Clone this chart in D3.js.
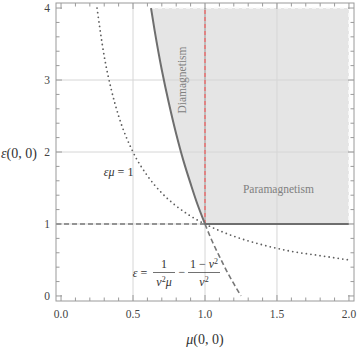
<!DOCTYPE html>
<html>
<head>
<meta charset="utf-8">
<script src="https://cdn.jsdelivr.net/npm/d3@7"></script>
<style>
  body { margin: 0; background: #fff; }
</style>
</head>
<body>
<div id="chart"></div>
<script>
// values
const xMajor = [0, 0.5, 1, 1.5, 2]
const xMajorLabels = ["0.0", "0.5", "1.0", "1.5", "2.0"]
const yMajor = [0, 1, 2, 3, 4]
const yMajorLabels = ["0", "1", "2", "3", "4"]
const xGrid = [0.5, 1, 1.5]
const yGrid = [1, 2, 3]

// eps*mu = 1 (dotted)
const hypMu  = [0.25, 0.3, 0.35, 0.4, 0.5, 0.6, 0.7, 0.8, 0.9, 1, 1.2, 1.4, 1.6, 1.8, 2]
const hypEps = [4, 3.33, 2.86, 2.5, 2, 1.67, 1.43, 1.25, 1.11, 1, 0.83, 0.71, 0.62, 0.56, 0.5]

// boundary curve (solid part, eps >= 1)
const edgeMu  = [0.625, 0.65, 0.7, 0.75, 0.8, 0.85, 0.9, 0.95, 1]
const edgeEps = [4, 3.69, 3.14, 2.67, 2.25, 1.88, 1.56, 1.26, 1]
// continuation below eps = 1 (dashed)
const tailMu  = [1, 1.05, 1.1, 1.15, 1.2, 1.25]
const tailEps = [1, 0.76, 0.55, 0.35, 0.17, 0]

const muMax = 2, epsMax = 4, epsLine = 1, muLine = 1

const width = 357
const height = 348
const serif = "'Liberation Serif', 'DejaVu Serif', 'Times New Roman', serif"

const svg = d3.select("#chart").append("svg")
    .attr("width", width)
    .attr("height", height)
    .attr("font-family", serif)

const x = d3.scaleLinear().domain([-0.035, 2.035]).range([56, 354])
const y = d3.scaleLinear().domain([-0.07, 4.07]).range([301, 3])

const line = d3.line().x(d => x(d[0])).y(d => y(d[1])).curve(d3.curveMonotoneY)
const lineX = d3.line().x(d => x(d[0])).y(d => y(d[1])).curve(d3.curveMonotoneX)

svg.append("clipPath").attr("id", "clip")
    .append("rect")
    .attr("x", x.range()[0]).attr("y", y.range()[1])
    .attr("width", x.range()[1] - x.range()[0])
    .attr("height", y.range()[0] - y.range()[1])

const g = svg.append("g").attr("clip-path", "url(#clip)")

// shaded region
const edge = edgeMu.map((m, i) => [m, edgeEps[i]])
const region = edge.concat([[muMax, epsLine], [muMax, epsMax]])
g.append("path")
    .attr("d", "M" + region.map(d => x(d[0]) + "," + y(d[1])).join("L") + "Z")
    .attr("fill", "#e5e5e5")

// grid
g.selectAll(".gx").data(xGrid).enter().append("line")
    .attr("x1", d => x(d)).attr("x2", d => x(d))
    .attr("y1", y.range()[0]).attr("y2", y.range()[1])
    .attr("stroke", "#d6d6d6").attr("stroke-width", 1)
g.selectAll(".gy").data(yGrid).enter().append("line")
    .attr("y1", d => y(d)).attr("y2", d => y(d))
    .attr("x1", x.range()[0]).attr("x2", x.range()[1])
    .attr("stroke", "#d6d6d6").attr("stroke-width", 1)

// dashed light border of region (top and right)
g.append("path")
    .attr("d", `M${x(edgeMu[0])},${y(epsMax)}L${x(muMax)},${y(epsMax)}L${x(muMax)},${y(epsLine)}`)
    .attr("fill", "none")
    .attr("stroke", "#fafafa")
    .attr("stroke-width", 1.6)
    .attr("stroke-dasharray", "4,3")

// red dashed vertical mu = 1
g.append("line")
    .attr("x1", x(muLine)).attr("x2", x(muLine))
    .attr("y1", y(epsLine)).attr("y2", y(epsMax))
    .attr("stroke", "#bdbdbd").attr("stroke-width", 2)
g.append("line")
    .attr("x1", x(muLine)).attr("x2", x(muLine))
    .attr("y1", y(epsLine)).attr("y2", y(epsMax))
    .attr("stroke", "#e08484").attr("stroke-width", 2)
    .attr("stroke-dasharray", "4,3")

// dotted eps*mu = 1
g.append("path")
    .attr("d", lineX(hypMu.map((m, i) => [m, hypEps[i]])))
    .attr("fill", "none")
    .attr("stroke", "#5e5e5e")
    .attr("stroke-width", 1.8)
    .attr("stroke-linecap", "round")
    .attr("stroke-dasharray", "0,4.6")

// dashed horizontal eps = 1 (mu < 1)
g.append("line")
    .attr("x1", x.range()[0]).attr("x2", x(muLine))
    .attr("y1", y(epsLine)).attr("y2", y(epsLine))
    .attr("stroke", "#777").attr("stroke-width", 1.6)
    .attr("stroke-dasharray", "5,3")

// dashed tail
g.append("path")
    .attr("d", line(tailMu.map((m, i) => [m, tailEps[i]])))
    .attr("fill", "none")
    .attr("stroke", "#777").attr("stroke-width", 1.6)
    .attr("stroke-dasharray", "5,3")

// solid boundary
g.append("path")
    .attr("d", line(edge))
    .attr("fill", "none")
    .attr("stroke", "#6e6e6e").attr("stroke-width", 2)
g.append("line")
    .attr("x1", x(muLine)).attr("x2", x(muMax))
    .attr("y1", y(epsLine)).attr("y2", y(epsLine))
    .attr("stroke", "#6e6e6e").attr("stroke-width", 2)

// frame
svg.append("rect")
    .attr("x", x.range()[0]).attr("y", y.range()[1])
    .attr("width", x.range()[1] - x.range()[0])
    .attr("height", y.range()[0] - y.range()[1])
    .attr("fill", "none").attr("stroke", "#9a9a9a").attr("stroke-width", 1)

// ticks
const xMinor = d3.range(0, 2.0001, 0.1).filter(v => !xMajor.some(m => Math.abs(m - v) < 1e-6))
const yMinor = d3.range(0, 4.0001, 0.2).filter(v => !yMajor.some(m => Math.abs(m - v) < 1e-6))
const tickColor = "#9a9a9a"
function xTicks(vals, len) {
    [y.range()[0], y.range()[1]].forEach((yy, k) => {
        const dir = k === 0 ? -1 : 1
        svg.append("g").selectAll("line").data(vals).enter().append("line")
            .attr("x1", d => x(d)).attr("x2", d => x(d))
            .attr("y1", yy).attr("y2", yy + dir * len)
            .attr("stroke", tickColor).attr("stroke-width", 1)
    })
}
function yTicks(vals, len) {
    [x.range()[0], x.range()[1]].forEach((xx, k) => {
        const dir = k === 0 ? 1 : -1
        svg.append("g").selectAll("line").data(vals).enter().append("line")
            .attr("y1", d => y(d)).attr("y2", d => y(d))
            .attr("x1", xx).attr("x2", xx + dir * len)
            .attr("stroke", tickColor).attr("stroke-width", 1)
    })
}
xTicks(xMajor, 6); xTicks(xMinor, 3.5)
yTicks(yMajor, 6); yTicks(yMinor, 3.5)

// tick labels
svg.append("g").selectAll("text").data(xMajor).enter().append("text")
    .attr("x", d => x(d)).attr("y", 318)
    .attr("text-anchor", "middle")
    .attr("font-size", 11.5).attr("fill", "#444")
    .text((d, i) => xMajorLabels[i])
svg.append("g").selectAll("text").data(yMajor).enter().append("text")
    .attr("x", 50).attr("y", d => y(d) + 4)
    .attr("text-anchor", "end")
    .attr("font-size", 11.5).attr("fill", "#444")
    .text((d, i) => yMajorLabels[i])

// axis labels
const xl = svg.append("text").attr("x", x(1)).attr("y", 344)
    .attr("text-anchor", "middle").attr("font-size", 14).attr("fill", "#333")
xl.append("tspan").attr("font-style", "italic").text("μ")
xl.append("tspan").text("(0, 0)")
const yl = svg.append("text").attr("x", 19).attr("y", 158)
    .attr("text-anchor", "middle").attr("font-size", 14).attr("fill", "#333")
yl.append("tspan").attr("font-style", "italic").text("ε")
yl.append("tspan").text("(0, 0)")

// region labels
svg.append("text")
    .attr("transform", `translate(${x(0.87)},${y(3.0)}) rotate(-90)`)
    .attr("text-anchor", "middle")
    .attr("font-size", 11.5).attr("fill", "#808080")
    .text("Diamagnetism")
svg.append("text")
    .attr("x", x(1.51)).attr("y", y(1.43))
    .attr("text-anchor", "middle")
    .attr("font-size", 11.5).attr("fill", "#808080")
    .text("Paramagnetism")

// eps mu = 1 label
const hl = svg.append("text").attr("x", x(0.4)).attr("y", y(1.66))
    .attr("text-anchor", "middle").attr("font-size", 12).attr("fill", "#333")
hl.append("tspan").attr("font-style", "italic").text("εμ")
hl.append("tspan").text(" = 1")

// fraction label
const fl = svg.append("g").attr("fill", "#333").attr("font-size", 12)
fl.append("text").attr("x", 140).attr("y", 277).attr("text-anchor", "middle")
    .html('<tspan font-style="italic">ε</tspan> =')
fl.append("text").attr("x", 164).attr("y", 268).attr("text-anchor", "middle").text("1")
fl.append("line").attr("x1", 153).attr("x2", 175).attr("y1", 272.5).attr("y2", 272.5)
    .attr("stroke", "#333").attr("stroke-width", 0.7)
fl.append("text").attr("x", 164).attr("y", 286).attr("text-anchor", "middle")
    .html('<tspan font-style="italic">v</tspan><tspan font-size="8" dy="-4">2</tspan><tspan font-style="italic" dy="4">μ</tspan>')
fl.append("text").attr("x", 182).attr("y", 276).attr("text-anchor", "middle").text("−")
fl.append("text").attr("x", 204).attr("y", 268).attr("text-anchor", "middle")
    .html('1 − <tspan font-style="italic">v</tspan><tspan font-size="8" dy="-4">2</tspan>')
fl.append("line").attr("x1", 188).attr("x2", 220).attr("y1", 272.5).attr("y2", 272.5)
    .attr("stroke", "#333").attr("stroke-width", 0.7)
fl.append("text").attr("x", 204).attr("y", 286).attr("text-anchor", "middle")
    .html('<tspan font-style="italic">v</tspan><tspan font-size="8" dy="-4">2</tspan>')
</script>
</body>
</html>
